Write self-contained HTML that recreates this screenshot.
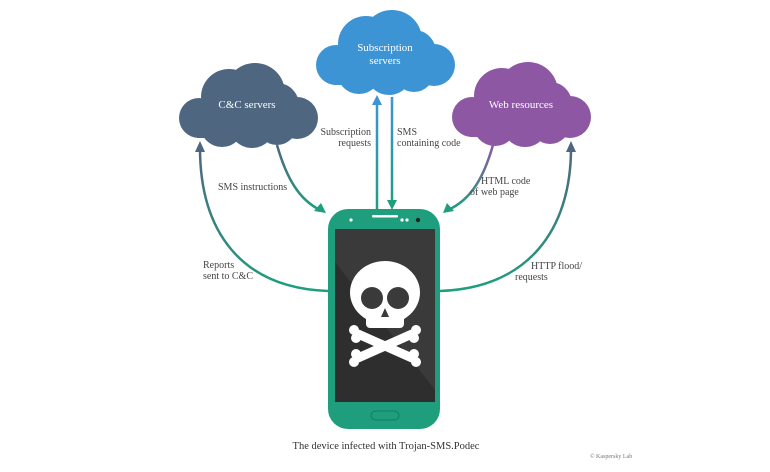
<!DOCTYPE html>
<html><head><meta charset="utf-8"><style>
html,body{margin:0;padding:0;background:#fff;}
svg{display:block;}
text{font-family:"Liberation Serif",serif;}
</style></head><body>
<svg width="770" height="472" viewBox="0 0 770 472" xmlns="http://www.w3.org/2000/svg">
<defs>
<linearGradient id="gl" x1="0" y1="1" x2="0" y2="0"><stop offset="0" stop-color="#1f9e7e"/><stop offset="1" stop-color="#4f6680"/></linearGradient>
<linearGradient id="gr" x1="0" y1="1" x2="0" y2="0"><stop offset="0" stop-color="#1f9e7e"/><stop offset="1" stop-color="#4f6680"/></linearGradient>
<linearGradient id="gs" x1="0" y1="0" x2="0" y2="1"><stop offset="0" stop-color="#4f6680"/><stop offset="1" stop-color="#1f9e7e"/></linearGradient>
<linearGradient id="gh" x1="0" y1="0" x2="0" y2="1"><stop offset="0" stop-color="#8d57a4"/><stop offset="1" stop-color="#1f9e7e"/></linearGradient>
<linearGradient id="gu" gradientUnits="userSpaceOnUse" x1="0" y1="209" x2="0" y2="100"><stop offset="0" stop-color="#1f9e7e"/><stop offset="1" stop-color="#3d94d4"/></linearGradient>
<linearGradient id="gd" gradientUnits="userSpaceOnUse" x1="0" y1="97" x2="0" y2="205"><stop offset="0" stop-color="#3d94d4"/><stop offset="1" stop-color="#1f9e7e"/></linearGradient>
<g id="cloud">
<circle cx="22" cy="55" r="20"/><circle cx="120" cy="55" r="21"/>
<circle cx="52" cy="34" r="28"/><circle cx="78" cy="30" r="30"/><circle cx="100" cy="42" r="22"/>
<circle cx="45" cy="62" r="22"/><circle cx="75" cy="62" r="23"/><circle cx="100" cy="62" r="20"/>
<rect x="20" y="40" width="100" height="35"/>
</g>
</defs>
<use href="#cloud" transform="translate(177,63)" fill="#4f6680"/>
<use href="#cloud" transform="translate(314,10)" fill="#3d94d4"/>
<use href="#cloud" transform="translate(450,62)" fill="#8d57a4"/>
<text x="247" y="108" fill="#fff" font-size="11" text-anchor="middle">C&amp;C servers</text>
<text x="385" y="51" fill="#fff" font-size="11" text-anchor="middle">Subscription</text>
<text x="385" y="64" fill="#fff" font-size="11" text-anchor="middle">servers</text>
<text x="521" y="108" fill="#fff" font-size="11" text-anchor="middle">Web resources</text>
<g fill="none" stroke-width="2.5">
<path d="M328,291 C240,288 200,230 200,148" stroke="url(#gl)"/>
<path d="M440,291 C528,288 571,230 571,148" stroke="url(#gr)"/>
<path d="M277,145 C287,180 300,200 320,210" stroke="url(#gs)"/>
<path d="M493,145 C483,180 470,200 448,210" stroke="url(#gh)"/>
<path d="M377,209 L377,102" stroke="url(#gu)"/>
<path d="M392,97 L392,203" stroke="url(#gd)"/>
</g>
<polygon points="200,141 195,152 205,152" fill="#4f6680"/>
<polygon points="571,141 566,152 576,152" fill="#4f6680"/>
<polygon points="377,95 372,105 382,105" fill="#3d94d4"/>
<polygon points="392,210 387,200 397,200" fill="#1f9e7e"/>
<polygon points="326,213 314,211 321,203" fill="#1f9e7e"/>
<polygon points="443,213 447,203 454,211" fill="#1f9e7e"/>
<g font-size="10" fill="#444">
<text x="218" y="190">SMS instructions</text>
<text x="371" y="135" text-anchor="end">Subscription</text>
<text x="371" y="146" text-anchor="end">requests</text>
<text x="397" y="135">SMS</text>
<text x="397" y="146">containing code</text>
<text x="481" y="184">HTML code</text>
<text x="470" y="195">of web page</text>
<text x="203" y="268">Reports</text>
<text x="203" y="279">sent to C&amp;C</text>
<text x="531" y="269">HTTP flood/</text>
<text x="515" y="280">requests</text>
<text x="386" y="449" text-anchor="middle" font-size="10.5" fill="#333">The device infected with Trojan-SMS.Podec</text>
<text x="590" y="458" font-size="6" fill="#777" font-family="Liberation Sans,sans-serif">© Kaspersky Lab</text>
</g>
<rect x="328" y="209" width="112" height="220" rx="20" fill="#1f9e7e"/>
<rect x="335" y="229" width="100" height="173" fill="#3a3a3a"/>
<polygon points="335,262 435,390 435,402 335,402" fill="#2e2e2e"/>
<rect x="372" y="215" width="26" height="2.5" rx="1" fill="#fff"/>
<circle cx="351" cy="220" r="1.6" fill="#fff"/>
<circle cx="402" cy="220" r="1.6" fill="#fff"/>
<circle cx="407" cy="220" r="1.6" fill="#fff"/>
<circle cx="418" cy="220" r="2.2" fill="#222"/>
<rect x="371" y="411" width="28" height="9" rx="4.5" fill="none" stroke="#167a60" stroke-width="1"/>
<g fill="#fff">
<circle cx="385" cy="293" r="35" transform="scale(1,0.9) translate(0,32)"/>
<rect x="366" y="300" width="38" height="28" rx="4"/>
<g stroke="#fff" stroke-width="9" stroke-linecap="round">
<line x1="358" y1="334" x2="412" y2="358"/>
<line x1="412" y1="334" x2="358" y2="358"/>
</g>
<circle cx="354" cy="330" r="5"/><circle cx="356" cy="338" r="5"/>
<circle cx="416" cy="330" r="5"/><circle cx="414" cy="338" r="5"/>
<circle cx="354" cy="362" r="5"/><circle cx="356" cy="354" r="5"/>
<circle cx="416" cy="362" r="5"/><circle cx="414" cy="354" r="5"/>
</g>
<circle cx="372" cy="298" r="11" fill="#3a3a3a"/>
<circle cx="398" cy="298" r="11" fill="#3a3a3a"/>
<polygon points="385,308 381,317 389,317" fill="#3a3a3a"/>
</svg>
</body></html>
